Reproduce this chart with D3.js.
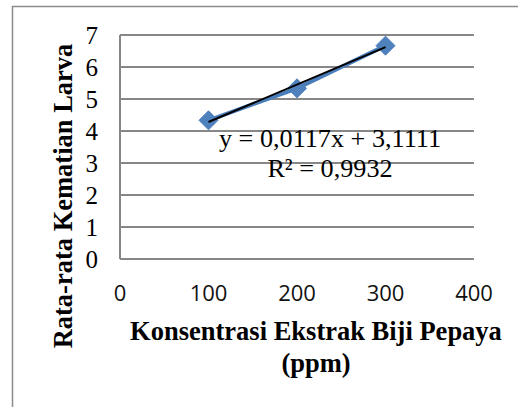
<!DOCTYPE html>
<html>
<head>
<meta charset="utf-8">
<script src="https://cdn.jsdelivr.net/npm/d3@7"></script>
<style>
  body { margin: 0; background: #fff; }
  svg { display: block; }
</style>
</head>
<body>
<div class="bigvis"></div>
<script>
// data
var concentrations = [100, 200, 300]
var larvaDeaths = [4.3333, 5.3333, 6.6667]
var yTicks = [0, 1, 2, 3, 4, 5, 6, 7]
var xTicks = [0, 100, 200, 300, 400]
var trendSlope = 0.0117
var trendIntercept = 3.1111
var equationText = "y = 0,0117x + 3,1111"
var r2Text = "R\u00b2 = 0,9932"
var xTitle = ["Konsentrasi Ekstrak Biji Pepaya", "(ppm)"]
var yTitle = "Rata-rata Kematian Larva"

var W = 518, H = 407
var margin = {top: 35, left: 120}
var width = 354, height = 224

var svg = d3.select(".bigvis").append("svg")
    .attr("width", W)
    .attr("height", H)

// outer chart border (runs off the right and bottom of the picture)
svg.append("rect")
    .attr("x", 12.5).attr("y", 6.5)
    .attr("width", 520).attr("height", 420)
    .attr("fill", "none")
    .attr("stroke", "#8c8c8c")
    .attr("stroke-width", 1.5)

var g = svg.append("g")
    .attr("transform", "translate(" + margin.left + "," + margin.top + ")")

var x = d3.scaleLinear().domain([0, 400]).range([0, width])
var y = d3.scaleLinear().domain([0, 7]).range([height, 0])

// gridlines
g.selectAll(".grid")
    .data(yTicks)
  .enter().append("line")
    .attr("class", "grid")
    .attr("x1", 0).attr("x2", width)
    .attr("y1", function(d){ return y(d) })
    .attr("y2", function(d){ return y(d) })
    .attr("stroke", "#878787")
    .attr("stroke-width", 2)

// left axis line
g.append("line")
    .attr("x1", 0).attr("x2", 0)
    .attr("y1", y(7)).attr("y2", y(0))
    .attr("stroke", "#878787")
    .attr("stroke-width", 2)

// y tick labels
g.selectAll(".ylab")
    .data(yTicks)
  .enter().append("text")
    .attr("class", "ylab")
    .attr("x", -22)
    .attr("y", function(d){ return y(d) + 8.5 })
    .attr("text-anchor", "end")
    .attr("font-family", "Liberation Serif, Times New Roman, serif")
    .attr("font-size", 25)
    .text(function(d){ return d })

// x tick labels
g.selectAll(".xlab")
    .data(xTicks)
  .enter().append("text")
    .attr("class", "xlab")
    .attr("x", function(d){ return x(d) })
    .attr("y", height + 42)
    .attr("text-anchor", "middle")
    .attr("font-family", "Open Sans, sans-serif")
    .attr("font-size", 22)
    .attr("fill", "#111")
    .text(function(d){ return d })

// data line + markers
var pts = concentrations.map(function(c, i){ return [c, larvaDeaths[i]] })
var line = d3.line()
    .x(function(d){ return x(d[0]) })
    .y(function(d){ return y(d[1]) })

g.append("path")
    .datum(pts)
    .attr("d", line)
    .attr("fill", "none")
    .attr("stroke", "#4a7ebb")
    .attr("stroke-width", 4)

var s = 9.5
g.selectAll(".marker")
    .data(pts)
  .enter().append("path")
    .attr("class", "marker")
    .attr("d", "M0," + (-s) + "L" + s + ",0L0," + s + "L" + (-s) + ",0Z")
    .attr("transform", function(d){ return "translate(" + x(d[0]) + "," + y(d[1]) + ")" })
    .attr("fill", "#4f81bd")
    .attr("stroke", "#4a7ebb")

// linear trendline
var trend = [100, 300].map(function(c){ return [c, trendSlope * c + trendIntercept] })
g.append("path")
    .datum(trend)
    .attr("d", line)
    .attr("fill", "none")
    .attr("stroke", "#000")
    .attr("stroke-width", 2)

// equation label
var eq = g.append("text")
    .attr("text-anchor", "middle")
    .attr("font-family", "Liberation Serif, Times New Roman, serif")
    .attr("font-size", 26.2)
eq.append("tspan").attr("x", 210).attr("y", 111.5).text(equationText)
eq.append("tspan").attr("x", 210).attr("y", 142).text(r2Text)

// x title
var xt = svg.append("text")
    .attr("text-anchor", "middle")
    .attr("font-family", "Liberation Serif, Times New Roman, serif")
    .attr("font-weight", "bold")
    .attr("font-size", 26.5)
xt.append("tspan").attr("x", 316).attr("y", 340).text(xTitle[0])
xt.append("tspan").attr("x", 316).attr("y", 372).text(xTitle[1])

// y title
svg.append("text")
    .attr("transform", "translate(72,196) rotate(-90)")
    .attr("text-anchor", "middle")
    .attr("font-family", "Liberation Serif, Times New Roman, serif")
    .attr("font-weight", "bold")
    .attr("font-size", 26.5)
    .text(yTitle)
</script>
</body>
</html>
